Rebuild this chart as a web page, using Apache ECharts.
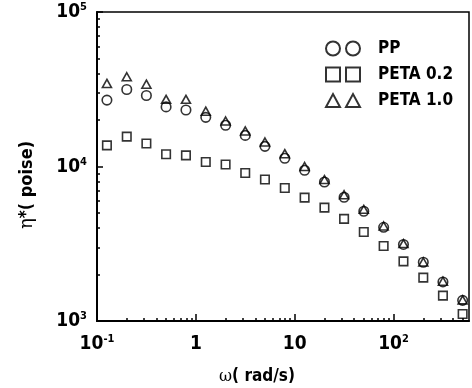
<!DOCTYPE html>
<html>
<head>
<meta charset="utf-8">
<script src="https://cdn.jsdelivr.net/npm/echarts@6/dist/echarts.min.js"></script>
<style>
  html, body { margin: 0; padding: 0; background: #fff; }
  #chart { width: 472px; height: 388px; }
</style>
</head>
<body>
<div id="chart"></div>
<script>
// frequency (rad/s)
const omega = [0.126, 0.2, 0.316, 0.5, 0.794, 1.26, 2, 3.16, 5, 7.94, 12.6, 20, 31.6, 50, 79.4, 126, 200, 316, 500];
// complex viscosity (poise)
const pp = [26900, 31500, 28800, 24300, 23200, 20800, 18500, 15900, 13500, 11300, 9460, 7940, 6320, 5130, 4040, 3130, 2400, 1790, 1360];
const peta02 = [13700, 15600, 14100, 12000, 11800, 10700, 10300, 9080, 8230, 7260, 6290, 5420, 4580, 3770, 3060, 2430, 1910, 1460, 1110];
const peta10 = [34500, 38100, 34100, 27200, 27200, 22800, 19700, 17000, 14400, 12100, 10000, 8230, 6560, 5280, 4120, 3170, 2410, 1810, 1370];

const seriesNames = ['PP', 'PETA 0.2', 'PETA 1.0'];
const xMajor = [0.1, 1, 10, 100];
const yMajor = [1000, 10000, 100000];
const xExp = { 0.1: '-1', 1: '', 10: '', 100: '2' };
const yExp = { 1000: '3', 10000: '4', 100000: '5' };

const FONT = '"DejaVu Sans Condensed", "Liberation Sans Narrow", sans-serif';

// 2..9 minor ticks per decade
const minorTicks = (lo, hi) => {
  const out = [];
  for (let d = lo; d < hi; d *= 10) {
    for (let k = 2; k <= 9; k++) out.push(+(d * k).toPrecision(3));
  }
  return out;
};

const pair = (a) => omega.map((w, i) => [w, a[i]]);

const supRich = {
  b: { fontFamily: FONT, fontWeight: 'bold', fontSize: 19, color: '#000', lineHeight: 20, verticalAlign: 'bottom' },
  s: { fontFamily: FONT, fontWeight: 'bold', fontSize: 11, color: '#000', lineHeight: 11, verticalAlign: 'top' },
};

const xLabel = (v) => {
  const key = +v.toPrecision(3);
  if (!(key in xExp)) return '';
  if (key === 1) return '{b|1}';
  if (key === 10) return '{b|10}';
  return '{b|10}{s|' + xExp[key] + '}';
};
const yLabel = (v) => {
  const key = Math.round(v);
  if (!(key in yExp)) return '';
  return '{b|10}{s|' + yExp[key] + '}';
};

const chart = echarts.init(document.getElementById('chart'));

const symStyle = { color: 'rgba(0,0,0,0)', borderColor: '#000', borderWidth: 1.6 };

chart.setOption({
  animation: false,
  backgroundColor: '#fff',
  grid: {
    left: 97, right: 3, top: 12, bottom: 67,
    show: true, borderColor: '#000', borderWidth: 1.5,
  },
  legend: {
    orient: 'vertical',
    left: 320,
    top: 35,
    itemWidth: 34,
    itemHeight: 14,
    itemGap: 9,
    textStyle: { fontFamily: FONT, fontWeight: 'bold', fontSize: 17, color: '#000', padding: [0, 0, 0, 13] },
    data: [
      { name: seriesNames[0], icon: 'path://M0,7a7,7 0 1,0 14,0a7,7 0 1,0 -14,0M20,7a7,7 0 1,0 14,0a7,7 0 1,0 -14,0' },
      { name: seriesNames[1], icon: 'path://M0,0H14V14H0ZM20,0H34V14H20Z' },
      { name: seriesNames[2], icon: 'path://M0,13L7,0L14,13ZM20,13L27,0L34,13Z' },
    ],
  },
  xAxis: [
    {
      type: 'log', logBase: 10, min: 0.1, max: 580, interval: 1,
      axisLine: { lineStyle: { color: '#000', width: 2 } },
      axisTick: { inside: true, length: 7, lineStyle: { color: '#000', width: 1.5 }, customValues: xMajor },
      axisLabel: { margin: 13, formatter: xLabel, rich: supRich, customValues: xMajor },
      splitLine: { show: false },
    },
    {
      type: 'log', logBase: 10, min: 0.1, max: 580, position: 'bottom',
      axisLine: { show: false },
      axisTick: { inside: true, length: 3, lineStyle: { color: '#000', width: 1.5 }, customValues: minorTicks(0.1, 1000).filter(v => v < 580) },
      axisLabel: { show: false },
      splitLine: { show: false },
    },
  ],
  yAxis: [
    {
      type: 'log', logBase: 10, min: 1000, max: 100000, interval: 1,
      axisLine: { lineStyle: { color: '#000', width: 2 } },
      axisTick: { inside: true, length: 6, lineStyle: { color: '#000', width: 1.5 }, customValues: yMajor },
      axisLabel: { margin: 10, formatter: yLabel, rich: supRich, customValues: yMajor },
      splitLine: { show: false },
    },
    {
      type: 'log', logBase: 10, min: 1000, max: 100000, position: 'left',
      axisLine: { show: false },
      axisTick: { inside: true, length: 3, lineStyle: { color: '#000', width: 1.5 }, customValues: minorTicks(1000, 100000) },
      axisLabel: { show: false },
      splitLine: { show: false },
    },
  ],
  graphic: [
    {
      type: 'text', x: 257, y: 377,
      style: {
        text: '{w|ω}( rad/s)', align: 'center', verticalAlign: 'middle',
        fontFamily: FONT, fontWeight: 'bold', fontSize: 17, fill: '#000',
        rich: { w: { fontFamily: '"DejaVu Serif", serif', fontSize: 16 } },
      },
    },
    {
      type: 'text', x: 27, y: 185, rotation: Math.PI / 2,
      style: {
        text: '{e|η}{s|*}( poise)', align: 'center', verticalAlign: 'middle',
        fontFamily: FONT, fontWeight: 'bold', fontSize: 18, fill: '#000',
        rich: {
          e: { fontFamily: '"DejaVu Serif", serif', fontSize: 18 },
          s: { fontFamily: FONT, fontWeight: 'bold', fontSize: 17, verticalAlign: 'top', lineHeight: 14 },
        },
      },
    },
  ],
  series: [
    { name: seriesNames[0], type: 'scatter', symbol: 'circle', symbolSize: 9.5, itemStyle: symStyle, data: pair(pp) },
    { name: seriesNames[1], type: 'scatter', symbol: 'rect', symbolSize: 8.5, itemStyle: symStyle, data: pair(peta02) },
    { name: seriesNames[2], type: 'scatter', symbol: 'triangle', symbolSize: [9, 8], itemStyle: symStyle, data: pair(peta10) },
  ],
});
</script>
</body>
</html>
